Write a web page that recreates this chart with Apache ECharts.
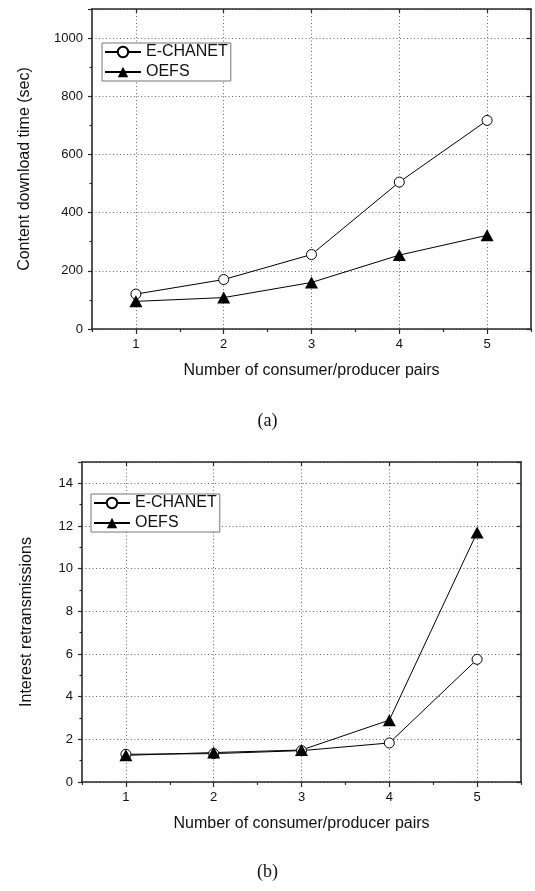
<!DOCTYPE html>
<html><head><meta charset="utf-8">
<script src="https://cdn.jsdelivr.net/npm/echarts@6/dist/echarts.min.js"></script>
<style>html,body{margin:0;padding:0;background:#fff;}#c{width:535px;height:891px;}</style>
</head><body><div id="c"></div>
<script>
const categories = ['1', '2', '3', '4', '5'];
const seriesNames = ['E-CHANET', 'OEFS'];
const downloadEchanet = [120, 170, 256, 505, 717];
const downloadOefs = [95, 108, 160, 254, 322];
const retransEchanet = [1.3, 1.33, 1.47, 1.83, 5.75];
const retransOefs = [1.25, 1.38, 1.5, 2.9, 11.7];
const xTitle = 'Number of consumer/producer pairs';
const yTitles = ['Content download time (sec)', 'Interest retransmissions'];
const panelLabels = ['(a)', '(b)'];

const FONT = '"Liberation Sans", Arial, sans-serif';
const AX = '#2a2a2a';
const chart = echarts.init(document.getElementById('c'), null, {renderer: 'canvas'});

function xAxes(g) {
  return [
    { type: 'category', gridIndex: g, data: categories, boundaryGap: true, position: 'bottom',
      name: xTitle, nameLocation: 'middle', nameGap: 34,
      nameTextStyle: {fontSize: 16, fontFamily: FONT, color: '#111'},
      axisLine: {show: true, lineStyle: {color: AX, width: 1.6}},
      axisTick: {show: true, alignWithLabel: true, inside: false, length: 5, lineStyle: {color: AX, width: 1.2}},
      axisLabel: {fontSize: 13, fontFamily: FONT, color: '#111', margin: 9},
      splitLine: {show: true, alignWithLabel: true, lineStyle: {color: '#666', type: [1, 2.5], width: 1}} },
    { type: 'category', gridIndex: g, data: categories, boundaryGap: true, position: 'bottom',
      axisLine: {show: false}, axisLabel: {show: false}, splitLine: {show: false},
      axisTick: {show: true, length: 3, lineStyle: {color: AX, width: 1.2}} },
    { type: 'category', gridIndex: g, data: categories, boundaryGap: true, position: 'top',
      axisLine: {show: true, lineStyle: {color: AX, width: 1.6}}, axisLabel: {show: false}, splitLine: {show: false},
      axisTick: {show: true, alignWithLabel: true, inside: true, length: 4, lineStyle: {color: AX, width: 1.2}} }
  ];
}
function yAxes(g, max, interval, nameGap) {
  return [
    { type: 'value', gridIndex: g, min: 0, max: max, interval: interval, position: 'left',
      name: yTitles[g], nameLocation: 'middle', nameGap: nameGap,
      nameTextStyle: {fontSize: 16, fontFamily: FONT, color: '#111'},
      axisLine: {show: true, lineStyle: {color: AX, width: 1.6}},
      axisTick: {show: true, inside: false, length: 4, lineStyle: {color: AX, width: 1.2}},
      minorTick: {show: true, splitNumber: 2, length: 2.5, lineStyle: {color: AX, width: 1.2}},
      axisLabel: {fontSize: 13, fontFamily: FONT, color: '#111', margin: 9,
        formatter: v => (v === max ? '' : String(v))},
      splitLine: {show: true, lineStyle: {color: '#666', type: [1, 2.5], width: 1}} },
    { type: 'value', gridIndex: g, min: 0, max: max, interval: interval, position: 'right',
      axisLine: {show: true, lineStyle: {color: AX, width: 1.6}},
      axisTick: {show: true, inside: true, length: 4, lineStyle: {color: AX, width: 1.2}},
      axisLabel: {show: false}, splitLine: {show: false} }
  ];
}
function mkSeries(name, data, g, isCircle) {
  return {
    type: 'line', name: name, data: data,
    xAxisIndex: g * 3, yAxisIndex: g * 2,
    symbol: isCircle ? 'circle' : 'triangle',
    symbolSize: isCircle ? 10 : [13, 12],
    showAllSymbol: true,
    lineStyle: {color: '#000', width: 1},
    itemStyle: isCircle ? {color: '#fff', borderColor: '#000', borderWidth: 1} : {color: '#000', borderColor: '#000', borderWidth: 0},
    emphasis: {disabled: true}
  };
}
function mkLegend(left, top) {
  return {
    left: left, top: top, orient: 'vertical', data: seriesNames,
    itemWidth: 36, itemHeight: 13, itemGap: 4, padding: [1, 3, 1, 2],
    borderColor: '#777', borderWidth: 1, backgroundColor: '#fff',
    selectedMode: false,
    textStyle: {fontSize: 16, fontFamily: FONT, color: '#111'}
  };
}

chart.setOption({
  animation: false,
  backgroundColor: '#fff',
  grid: [
    {left: 92, top: 9, width: 439, height: 320},
    {left: 82, top: 462, width: 439, height: 320}
  ],
  xAxis: xAxes(0).concat(xAxes(1)),
  yAxis: yAxes(0, 1100, 200, 59).concat(yAxes(1, 15, 2, 47)),
  legend: [mkLegend(102, 43), mkLegend(91, 494)],
  series: [
    mkSeries(seriesNames[0], downloadEchanet, 0, true),
    mkSeries(seriesNames[1], downloadOefs, 0, false),
    mkSeries(seriesNames[0], retransEchanet, 1, true),
    mkSeries(seriesNames[1], retransOefs, 1, false)
  ],
  graphic: [
    {type: 'text', left: 'center', top: 412, style: {text: panelLabels[0], font: '18px "Liberation Serif", "Times New Roman", serif', fill: '#111'}},
    {type: 'text', left: 'center', top: 863, style: {text: panelLabels[1], font: '18px "Liberation Serif", "Times New Roman", serif', fill: '#111'}}
  ]
});
</script></body></html>
